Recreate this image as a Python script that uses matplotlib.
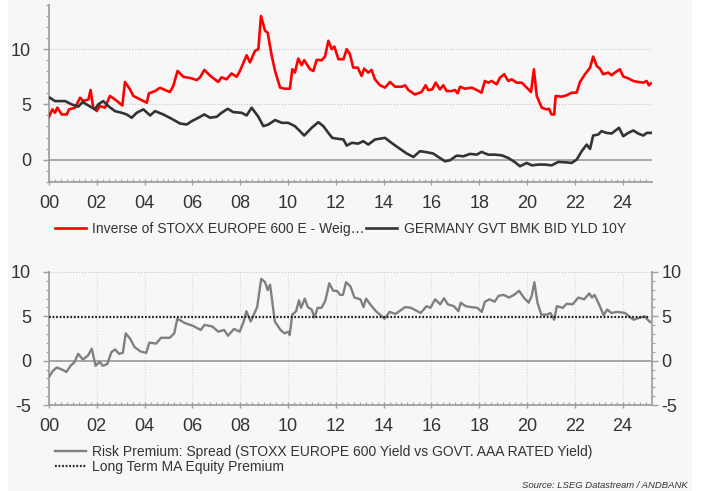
import matplotlib.pyplot as plt
from matplotlib.ticker import MultipleLocator, FixedLocator, FuncFormatter
from matplotlib.patches import Rectangle

plt.rcParams['font.family'] = ['Liberation Sans', 'DejaVu Sans']
plt.rcParams['axes.unicode_minus'] = False

# inverse of STOXX Europe 600 P/E (earnings yield, %)
ey_year = [2000.0, 2000.14, 2000.25, 2000.35, 2000.53, 2000.74, 2000.84, 2001.09, 2001.3, 2001.44,
           2001.65, 2001.74, 2001.85, 2002.0, 2002.13, 2002.34, 2002.55, 2002.76, 2003.07, 2003.18,
           2003.39, 2003.53, 2003.81, 2004.09, 2004.18, 2004.43, 2004.64, 2005.06, 2005.2, 2005.38,
           2005.62, 2005.97, 2006.18, 2006.32, 2006.5, 2006.74, 2007.08, 2007.22, 2007.43, 2007.64,
           2007.85, 2007.99, 2008.27, 2008.41, 2008.62, 2008.76, 2008.87, 2009.04, 2009.15, 2009.32,
           2009.46, 2009.67, 2009.87, 2010.08, 2010.18, 2010.29, 2010.43, 2010.57, 2010.68, 2010.92,
           2011.06, 2011.2, 2011.41, 2011.55, 2011.69, 2011.83, 2011.94, 2012.11, 2012.32, 2012.46,
           2012.59, 2012.73, 2012.92, 2013.08, 2013.19, 2013.36, 2013.5, 2013.64, 2013.85, 2014.06,
           2014.27, 2014.48, 2014.76, 2014.9, 2015.04, 2015.31, 2015.59, 2015.76, 2015.87, 2016.04,
           2016.18, 2016.36, 2016.5, 2016.64, 2016.85, 2016.99, 2017.1, 2017.2, 2017.41, 2017.69,
           2017.9, 2018.1, 2018.24, 2018.38, 2018.52, 2018.73, 2018.87, 2019.05, 2019.22, 2019.36,
           2019.57, 2019.78, 2019.99, 2020.17, 2020.29, 2020.41, 2020.62, 2020.82, 2020.92, 2021.03,
           2021.14, 2021.2, 2021.45, 2021.66, 2021.87, 2022.08, 2022.22, 2022.43, 2022.64, 2022.77,
           2022.92, 2023.05, 2023.19, 2023.4, 2023.54, 2023.68, 2023.89, 2024.03, 2024.24, 2024.45,
           2024.66, 2024.87, 2025.01, 2025.1, 2025.18]
ey_val = [3.88, 4.55, 4.24, 4.7, 4.09, 4.09, 4.55, 4.7, 5.6, 5.3,
          5.45, 6.3, 4.7, 4.4, 4.85, 4.7, 5.76, 5.45, 4.9, 7.03,
          6.36, 5.76, 5.45, 5.15, 6.0, 6.2, 6.5, 6.12, 6.67, 8.03,
          7.5, 7.36, 7.2, 7.45, 8.12, 7.6, 7.03, 7.45, 7.27, 7.8,
          7.5, 8.03, 9.45, 8.8, 9.85, 10.0, 13.0, 11.67, 11.5, 9.4,
          8.03, 6.52, 6.42, 6.42, 8.18, 7.88, 9.15, 8.55, 9.0, 8.18,
          8.03, 9.03, 9.0, 9.33, 10.76, 10.0, 10.24, 9.09, 9.09, 10.0,
          9.55, 8.33, 8.33, 7.58, 8.24, 7.88, 8.12, 7.27, 6.73, 6.52,
          7.03, 6.6, 6.6, 6.73, 6.3, 5.9, 6.12, 6.73, 6.3, 6.36,
          6.97, 6.36, 6.73, 6.21, 6.21, 6.3, 6.0, 6.6, 6.42, 6.52,
          6.3, 6.06, 7.12, 6.97, 7.12, 6.82, 7.42, 7.73, 7.12, 7.27,
          6.97, 6.97, 6.52, 6.12, 8.18, 5.76, 4.7, 4.55, 4.6, 4.09,
          4.09, 5.76, 5.7, 5.82, 6.06, 6.06, 7.03, 7.73, 8.33, 9.33,
          8.48, 8.24, 7.73, 7.88, 7.64, 7.88, 8.18, 7.52, 7.36, 7.12,
          7.03, 6.97, 7.12, 6.73, 6.9]

# German 10Y Bund yield (%)
bund_year = [2000.04, 2000.25, 2000.67, 2000.95, 2001.23, 2001.4, 2001.65, 2001.92, 2002.06, 2002.27,
             2002.48, 2002.76, 2003.04, 2003.25, 2003.46, 2003.67, 2003.95, 2004.23, 2004.44, 2004.78,
             2005.13, 2005.48, 2005.76, 2005.97, 2006.25, 2006.5, 2006.74, 2007.02, 2007.22, 2007.48,
             2007.71, 2008.06, 2008.27, 2008.48, 2008.76, 2008.97, 2009.18, 2009.46, 2009.74, 2010.01,
             2010.29, 2010.5, 2010.68, 2010.99, 2011.27, 2011.48, 2011.69, 2011.85, 2012.11, 2012.32,
             2012.46, 2012.67, 2012.94, 2013.15, 2013.36, 2013.64, 2014.06, 2014.33, 2014.69, 2014.97,
             2015.25, 2015.52, 2015.8, 2016.08, 2016.29, 2016.57, 2016.78, 2017.06, 2017.34, 2017.62,
             2017.9, 2018.1, 2018.38, 2018.66, 2018.94, 2019.22, 2019.5, 2019.71, 2019.99, 2020.2,
             2020.48, 2020.75, 2021.03, 2021.31, 2021.59, 2021.87, 2022.08, 2022.29, 2022.5, 2022.64,
             2022.77, 2022.98, 2023.12, 2023.33, 2023.54, 2023.85, 2024.03, 2024.24, 2024.45, 2024.66,
             2024.87, 2025.01, 2025.18]
bund_val = [5.6, 5.3, 5.3, 5.0, 4.8, 5.21, 4.9, 4.55, 5.0, 5.3,
            4.85, 4.39, 4.24, 4.09, 3.79, 4.24, 4.55, 4.0, 4.39, 4.09,
            3.7, 3.27, 3.18, 3.48, 3.79, 4.09, 3.79, 3.88, 4.24, 4.6,
            4.3, 4.24, 4.0, 4.7, 3.88, 3.03, 3.18, 3.58, 3.33, 3.33,
            3.03, 2.58, 2.18, 2.88, 3.39, 3.03, 2.42, 1.97, 1.88, 1.82,
            1.27, 1.52, 1.45, 1.67, 1.36, 1.82, 1.97, 1.52, 0.97, 0.55,
            0.24, 0.76, 0.67, 0.55, 0.24, -0.15, -0.06, 0.36, 0.3, 0.52,
            0.45, 0.7, 0.45, 0.45, 0.39, 0.15, -0.24, -0.6, -0.3, -0.52,
            -0.45, -0.45, -0.52, -0.21, -0.24, -0.3, 0.0, 0.76, 1.36, 0.97,
            2.18, 2.27, 2.58, 2.42, 2.36, 2.88, 2.12, 2.42, 2.64, 2.36,
            2.18, 2.42, 2.42]

# risk premium spread (%)
prem_year = [2000.03, 2000.16, 2000.33, 2000.57, 2000.73, 2000.9, 2001.06, 2001.22, 2001.42, 2001.63,
             2001.79, 2001.95, 2002.12, 2002.25, 2002.44, 2002.61, 2002.77, 2002.93, 2003.09, 2003.21,
             2003.39, 2003.58, 2003.83, 2004.07, 2004.2, 2004.48, 2004.69, 2005.05, 2005.24, 2005.37,
             2005.7, 2006.03, 2006.35, 2006.51, 2006.84, 2007.08, 2007.33, 2007.49, 2007.74, 2007.98,
             2008.14, 2008.26, 2008.44, 2008.71, 2008.88, 2009.04, 2009.15, 2009.25, 2009.45, 2009.69,
             2009.85, 2010.02, 2010.07, 2010.18, 2010.34, 2010.46, 2010.55, 2010.7, 2010.83, 2010.99,
             2011.11, 2011.24, 2011.4, 2011.56, 2011.73, 2011.89, 2012.05, 2012.18, 2012.3, 2012.43,
             2012.62, 2012.78, 2013.03, 2013.16, 2013.27, 2013.44, 2013.68, 2013.88, 2014.04, 2014.25,
             2014.5, 2014.9, 2015.15, 2015.55, 2015.8, 2015.96, 2016.16, 2016.37, 2016.53, 2016.69,
             2016.94, 2017.13, 2017.23, 2017.43, 2017.67, 2017.92, 2018.11, 2018.24, 2018.44, 2018.65,
             2018.81, 2019.02, 2019.25, 2019.46, 2019.67, 2019.87, 2020.07, 2020.2, 2020.31, 2020.44,
             2020.6, 2020.85, 2020.98, 2021.14, 2021.25, 2021.5, 2021.66, 2021.91, 2022.15, 2022.39,
             2022.61, 2022.72, 2022.83, 2023.05, 2023.21, 2023.36, 2023.53, 2023.78, 2024.1, 2024.27,
             2024.46, 2024.67, 2024.92, 2025.05, 2025.16]
prem_val = [-1.73, -1.15, -0.77, -1.04, -1.27, -0.58, -0.19, 0.77, 0.12, 0.58,
            1.35, -0.58, -0.12, -0.58, -0.38, 0.96, 1.27, 0.77, 0.88, 3.08,
            2.5, 1.54, 1.04, 0.88, 2.04, 1.92, 2.58, 2.58, 3.08, 4.73,
            4.23, 3.92, 3.46, 4.04, 3.85, 3.27, 3.46, 2.81, 3.58, 3.27,
            4.35, 5.58, 4.42, 6.04, 9.23, 8.85, 7.96, 8.58, 4.42, 3.46,
            3.08, 3.27, 2.88, 5.19, 5.58, 6.81, 5.96, 7.0, 6.04, 5.77,
            4.88, 5.96, 5.96, 6.73, 8.73, 7.88, 7.88, 7.42, 7.42, 8.85,
            8.35, 7.12, 6.92, 6.04, 7.0, 6.35, 5.58, 5.12, 4.73, 5.5,
            5.27, 6.04, 5.96, 5.38, 6.15, 5.96, 6.92, 6.35, 7.04, 6.35,
            6.15, 5.58, 6.54, 6.15, 6.04, 5.96, 5.5, 6.65, 6.92, 6.65,
            7.31, 7.42, 7.12, 7.42, 7.88, 7.12, 6.54, 7.31, 8.85, 6.54,
            5.19, 5.19, 5.38, 4.62, 6.15, 5.96, 6.42, 6.35, 7.12, 6.92,
            7.58, 7.12, 7.42, 6.15, 5.12, 5.77, 5.38, 5.5, 5.38, 5.0,
            4.62, 4.81, 5.0, 4.62, 4.35]
lt_premium = 4.9

txt = '#333333'
spine_c = '#a0a0a0'

fig = plt.figure(figsize=(7.02, 4.91), dpi=100)
fig.patch.set_facecolor('white')
fig.add_artist(Rectangle((8 / 702, 0), 684 / 702, 1, transform=fig.transFigure,
                         facecolor='#f7f7f7', edgecolor='none', zorder=-10))


def style_x(ax):
    ax.set_xlim(2000, 2025.22)
    ax.xaxis.set_major_locator(MultipleLocator(2))
    ax.xaxis.set_minor_locator(MultipleLocator(0.25))
    ax.xaxis.set_major_formatter(FuncFormatter(lambda v, p: '%02d' % (int(round(v)) % 100)))
    ax.tick_params(axis='x', which='major', direction='inout', length=5, width=1,
                   color=spine_c, labelsize=13, labelcolor=txt, pad=7)
    ax.tick_params(axis='x', which='minor', direction='in', length=2.5, width=0.8, color=spine_c)
    ax.tick_params(axis='y', which='major', direction='out', length=4, width=1,
                   color=spine_c, labelsize=13, labelcolor=txt, pad=9)
    ax.tick_params(axis='y', which='minor', direction='out', length=2.5, width=0.8, color=spine_c)
    ax.yaxis.set_minor_locator(MultipleLocator(1))
    for s in ['top', 'right']:
        ax.spines[s].set_visible(False)
    for s in ['left', 'bottom']:
        ax.spines[s].set_color(spine_c)
        ax.spines[s].set_linewidth(1.3)
    ax.set_facecolor('none')


# top panel
ax1 = fig.add_axes([49 / 702, 1 - 181.7 / 491, 602.7 / 702, 176.7 / 491])
ax1.plot(ey_year, ey_val, color='#ff0000', lw=1.9, label='Inverse of STOXX EUROPE 600 E - Weig…', zorder=3)
ax1.plot(bund_year, bund_val, color='#333333', lw=1.9, label='GERMANY GVT BMK BID YLD 10Y', zorder=3)
ax1.axhline(0, color=spine_c, lw=1.3, zorder=1)
for y in (5, 10):
    ax1.axhline(y, color='#c4c4c4', lw=0.8, ls=':', zorder=0)
ax1.set_ylim(-2, 14)
ax1.yaxis.set_major_locator(FixedLocator([0, 5, 10]))
style_x(ax1)

fig.legend(handles=ax1.get_lines()[:2], loc='center left', bbox_to_anchor=(55 / 702, 1 - 229 / 491),
           ncol=2, frameon=False, fontsize=10, handlelength=2.2, handletextpad=0.5,
           columnspacing=0.1, borderpad=0, borderaxespad=0, labelcolor=txt)

# bottom panel
ax2 = fig.add_axes([49 / 702, 1 - 405 / 491, 602.7 / 702, 133 / 491])
ax2.plot(prem_year, prem_val, color='#808080', lw=1.7, zorder=3,
         label='Risk Premium: Spread (STOXX EUROPE 600 Yield vs GOVT. AAA RATED Yield)')
ax2.plot([prem_year[0] - 0.03, prem_year[-1]], [lt_premium, lt_premium], color='#222222', lw=1.6,
         ls=(0, (0.8, 0.8)), zorder=4, label='Long Term MA Equity Premium')
ax2.axhline(0, color=spine_c, lw=1.3, zorder=1)
ax2.axhline(10, color='#c4c4c4', lw=0.8, ls=':', zorder=0)
for x in range(2002, 2025, 2):
    ax2.axvline(x, color='#d8d8d8', lw=0.8, ls=':', zorder=0)
ax2.set_ylim(-5, 10)
ax2.yaxis.set_major_locator(MultipleLocator(5))
style_x(ax2)

ax2r = ax2.twinx()
ax2r.set_ylim(-5, 10)
ax2r.yaxis.set_major_locator(MultipleLocator(5))
ax2r.yaxis.set_minor_locator(MultipleLocator(1))
ax2r.tick_params(axis='y', which='major', direction='out', length=4, width=1,
                 color=spine_c, labelsize=13, labelcolor=txt, pad=3)
ax2r.tick_params(axis='y', which='minor', direction='out', length=2.5, width=0.8, color=spine_c)
for s in ['top', 'left', 'bottom']:
    ax2r.spines[s].set_visible(False)
ax2r.spines['right'].set_color(spine_c)
ax2r.spines['right'].set_linewidth(1.3)
ax2r.set_facecolor('none')

fig.legend(handles=ax2.get_lines()[:2], loc='center left', bbox_to_anchor=(55 / 702, 1 - 459.5 / 491),
           ncol=1, frameon=False, fontsize=10, handlelength=2.2, handletextpad=0.5,
           labelspacing=0.1, borderpad=0, borderaxespad=0, labelcolor=txt)

fig.text(688 / 702, 1 - 485 / 491, 'Source: LSEG Datastream / ANDBANK', ha='right', va='center',
         fontsize=6.8, style='italic', color=txt)

fig.savefig('out.png', dpi=100, facecolor=fig.get_facecolor())
